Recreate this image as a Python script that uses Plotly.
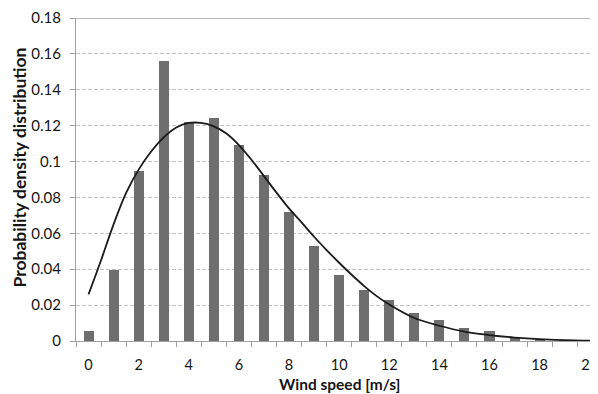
import plotly.graph_objects as go

# Histogram bars (wind speed bins, m/s)
wind_speed = list(range(0, 21))
prob_density = [0.0057, 0.0396, 0.0945, 0.156, 0.122, 0.1244, 0.1095, 0.0925,
                0.0717, 0.0528, 0.037, 0.0286, 0.0226, 0.0158, 0.0117, 0.0073,
                0.0055, 0.002, 0.0008, 0.0003, 0.0001]

# Fitted curve
curve_x = [0, 0.5, 1, 1.5, 2, 2.5, 3, 3.5, 4, 4.5, 5, 5.5, 6, 6.5, 7, 7.5, 8,
           8.5, 9, 9.5, 10, 10.5, 11, 11.5, 12, 13, 14, 15, 16, 17, 18, 19, 20]
curve_y = [0.026, 0.045, 0.065, 0.0825, 0.0955, 0.1056, 0.1135, 0.119, 0.1215,
           0.1215, 0.1196, 0.1156, 0.1092, 0.1010, 0.0919, 0.0827, 0.0739,
           0.0661, 0.0581, 0.0507, 0.0436, 0.0369, 0.0306, 0.0250, 0.0203,
           0.0128, 0.0085, 0.0052, 0.0033, 0.0019, 0.0010, 0.0005, 0.0002]

y_ticks = [0, 0.02, 0.04, 0.06, 0.08, 0.1, 0.12, 0.14, 0.16, 0.18]
y_tick_text = ["0", "0.02", "0.04", "0.06", "0.08", "0.1", "0.12", "0.14", "0.16", "0.18"]
x_ticks = list(range(0, 21, 2))
x_tick_text = [str(v) for v in x_ticks]

font_family = "Lato, 'Open Sans', sans-serif"
txt_color = "#151515"
axis_gray = "#a0a0a0"

fig = go.Figure()
fig.add_trace(go.Bar(x=wind_speed, y=prob_density, width=0.4,
                     marker=dict(color="#6e6e6e", line=dict(width=0)),
                     showlegend=False))
fig.add_trace(go.Scatter(x=curve_x, y=curve_y, mode="lines",
                         line=dict(color="#1a1a1a", width=1.8, shape="spline",
                                   smoothing=1.0),
                         showlegend=False))

# The page body has an 8px margin, so the figure is 8px smaller on each axis
fig.update_layout(
    width=590, height=386,
    margin=dict(l=68, r=0, t=6, b=53),
    paper_bgcolor="white", plot_bgcolor="white",
    font=dict(family=font_family, size=15, color=txt_color),
    xaxis=dict(range=[-0.5, 20.21], tickvals=x_ticks, ticktext=x_tick_text,
               ticks="", showgrid=False, zeroline=False,
               showline=True, linecolor=axis_gray, linewidth=1.2,
               ticklabelstandoff=10, ticklabeloverflow="allow",
               tickfont=dict(size=14.5, family=font_family, color=txt_color),
               minor=dict(tick0=-0.5, dtick=1, ticks="outside", ticklen=5,
                          tickcolor=axis_gray, tickwidth=1, showgrid=False),
               fixedrange=True),
    yaxis=dict(range=[0, 0.18], tickvals=y_ticks, ticktext=y_tick_text,
               ticks="outside", ticklen=5, tickcolor=axis_gray,
               ticklabelstandoff=6, ticklabeloverflow="allow",
               showgrid=True, gridcolor="#c2c2c2", griddash="4px,2px", gridwidth=1,
               zeroline=False, showline=True, linecolor=axis_gray, linewidth=1.2,
               tickfont=dict(size=15, family=font_family, color=txt_color),
               fixedrange=True),
    bargap=0,
)

# solid top border line at 0.18
fig.add_shape(type="line", xref="paper", yref="y", x0=0, x1=1, y0=0.18, y1=0.18,
              line=dict(color=axis_gray, width=1.5))

fig.add_annotation(text="<b>Wind speed [m/s]</b>", xref="paper", yref="paper",
                   x=(341 - 76) / 522, y=-(384.5 - 341) / 327, showarrow=False,
                   font=dict(size=15.5, family=font_family, color=txt_color),
                   xanchor="center", yanchor="middle")
fig.add_annotation(text="<b>Probability density distribution</b>", xref="paper",
                   yref="paper", x=-(76 - 19) / 522, y=(341 - 165) / 327,
                   showarrow=False, textangle=-90,
                   font=dict(size=17.5, family=font_family, color=txt_color),
                   xanchor="center", yanchor="middle")

fig.write_html("out.html")
